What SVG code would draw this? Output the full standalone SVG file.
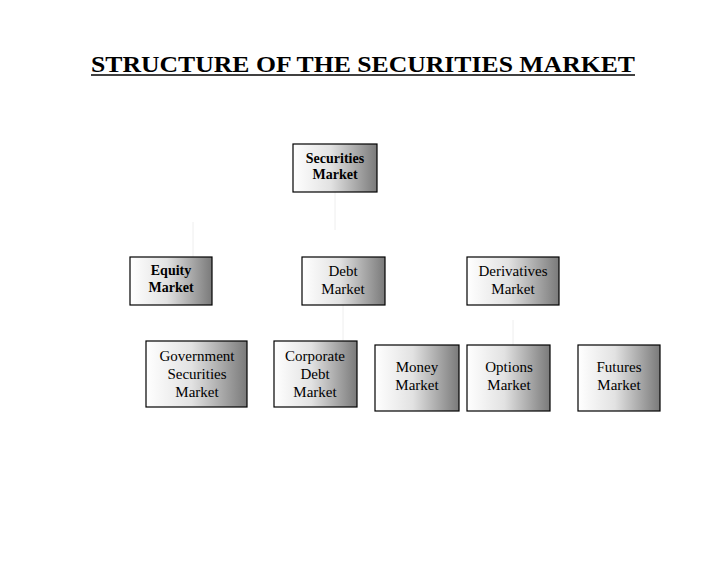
<svg xmlns="http://www.w3.org/2000/svg" width="728" height="563" viewBox="0 0 728 563">
<style>
.box{fill:url(#g);stroke:#000;stroke-width:1.2}
.t{font-family:"Liberation Serif",serif;font-size:15px;text-anchor:middle;fill:#000}
.b{font-weight:bold;font-size:14px}
.c{stroke:#eeeeee;stroke-width:1;fill:none}
</style>
<defs>
<linearGradient id="g" x1="0" x2="1" y1="0" y2="0">
<stop offset="0" stop-color="#ffffff"/>
<stop offset="0.45" stop-color="#e2e2e2"/>
<stop offset="1" stop-color="#7a7a7a"/>
</linearGradient>
</defs>
<rect width="728" height="563" fill="#fff"/>
<text x="91" y="72" font-family="Liberation Serif,serif" font-size="23" font-weight="bold" textLength="544" lengthAdjust="spacingAndGlyphs">STRUCTURE OF THE SECURITIES MARKET</text>
<line x1="91" y1="75" x2="635" y2="75" stroke="#000" stroke-width="1.5"/>
<g id="connectors" class="c">
<line x1="335" y1="192" x2="335" y2="230"/>
<line x1="193" y1="222" x2="193" y2="257"/>
<line x1="343" y1="305" x2="343" y2="341"/>
<line x1="513" y1="320" x2="513" y2="345"/>
</g>
<g id="securities"><rect class="box" x="293" y="144" width="84" height="48"/><text class="t b" x="335" y="163">Securities</text><text class="t b" x="335" y="179">Market</text></g>
<g id="equity"><rect class="box" x="130" y="257" width="82" height="48"/><text class="t b" x="171" y="275">Equity</text><text class="t b" x="171" y="292">Market</text></g>
<g id="debt"><rect class="box" x="302" y="257" width="83" height="48"/><text class="t" x="343" y="276">Debt</text><text class="t" x="343" y="294">Market</text></g>
<g id="derivatives"><rect class="box" x="467" y="257" width="92" height="48"/><text class="t" x="513" y="276">Derivatives</text><text class="t" x="513" y="294">Market</text></g>
<g id="government"><rect class="box" x="146" y="341" width="101" height="66"/><text class="t" x="197" y="361">Government</text><text class="t" x="197" y="379">Securities</text><text class="t" x="197" y="397">Market</text></g>
<g id="corporate"><rect class="box" x="274" y="341" width="83" height="66"/><text class="t" x="315" y="361">Corporate</text><text class="t" x="315" y="379">Debt</text><text class="t" x="315" y="397">Market</text></g>
<g id="money"><rect class="box" x="375" y="345" width="84" height="66"/><text class="t" x="417" y="372">Money</text><text class="t" x="417" y="390">Market</text></g>
<g id="options"><rect class="box" x="467" y="345" width="83" height="66"/><text class="t" x="509" y="372">Options</text><text class="t" x="509" y="390">Market</text></g>
<g id="futures"><rect class="box" x="578" y="345" width="82" height="66"/><text class="t" x="619" y="372">Futures</text><text class="t" x="619" y="390">Market</text></g>
</svg>
